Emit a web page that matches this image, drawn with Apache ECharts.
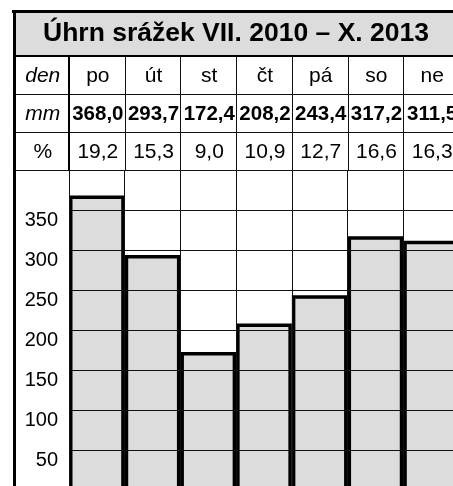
<!DOCTYPE html>
<html><head><meta charset="utf-8">
<script src="https://cdn.jsdelivr.net/npm/echarts@6/dist/echarts.min.js"></script>
<style>html,body{margin:0;padding:0;background:#fff}#c{width:453px;height:486px}</style>
</head><body><div id="c"></div>
<script>
const title = 'Úhrn srážek VII. 2010 – X. 2013';
const rowHeaders = ['den', 'mm', '%'];
const days = ['po', 'út', 'st', 'čt', 'pá', 'so', 'ne'];
const mm = [368.0, 293.7, 172.4, 208.2, 243.4, 317.2, 311.5];
const pct = [19.2, 15.3, 9.0, 10.9, 12.7, 16.6, 16.3];
const yTicks = [50, 100, 150, 200, 250, 300, 350];

const FF = '"Liberation Sans", Arial, sans-serif';
const chart = echarts.init(document.getElementById('c'), null, {renderer: 'canvas'});
const fmt = v => v.toFixed(1).replace('.', ',');

chart.setOption({
  animation: false,
  grid: {left: 69, top: 170, width: 390, height: 320, outerBoundsMode: 'none', containLabel: false},
  xAxis: {
    type: 'category', data: days, boundaryGap: true,
    axisLine: {show: false}, axisTick: {show: false}, axisLabel: {show: false},
    splitLine: {show: true, interval: 0, lineStyle: {color: '#111', width: 1}},
    zlevel: 1
  },
  yAxis: {
    type: 'value', min: 0, max: 400, interval: 50,
    axisLine: {show: false}, axisTick: {show: false},
    axisLabel: {
      formatter: v => yTicks.includes(v) ? String(v) : '',
      fontFamily: FF, fontSize: 20, color: '#000', margin: 11,
      verticalAlign: 'top', lineHeight: 20
    },
    splitLine: {lineStyle: {color: '#111', width: 1}},
    zlevel: 1
  },
  series: [{
    type: 'bar', data: mm, barWidth: '100%', barCategoryGap: '0%',
    itemStyle: {color: '#dcdcdc', borderColor: '#000', borderWidth: 3.5}
  }]
});

// table built from the arrays, positioned with the category axis scale
const centers = days.map((d, i) => chart.convertToPixel({xAxisIndex: 0}, i));
const cw = centers[1] - centers[0];
const x0 = centers[0] - cw / 2;
const leftX = 14.5;
const rowY = [56, 94.5, 132.5, 170.5];
const g = [];
g.push({type: 'rect', shape: {x: 15, y: 12, width: 460, height: 44}, style: {fill: '#dcdcdc'}, z: 1});
g.push({type: 'line', shape: {x1: 12, y1: 11.5, x2: 453, y2: 11.5}, style: {stroke: '#000', lineWidth: 3}, z: 10});
g.push({type: 'line', shape: {x1: leftX, y1: 10, x2: leftX, y2: 486}, style: {stroke: '#000', lineWidth: 3}, z: 10});
g.push({type: 'line', shape: {x1: 13, y1: rowY[0], x2: 453, y2: rowY[0]}, style: {stroke: '#000', lineWidth: 2}, z: 10});
for (let r = 1; r < rowY.length; r++) {
  g.push({type: 'line', shape: {x1: 15, y1: rowY[r], x2: 453, y2: rowY[r]}, style: {stroke: '#111', lineWidth: 1}, z: 10});
}
g.push({type: 'line', shape: {x1: x0, y1: rowY[0], x2: x0, y2: 171}, style: {stroke: '#000', lineWidth: 2}, z: 10});
for (let i = 1; i <= days.length; i++) {
  const bx = Math.round(x0 + cw * i) + 0.5;
  g.push({type: 'line', shape: {x1: bx, y1: rowY[0], x2: bx, y2: 171}, style: {stroke: '#111', lineWidth: 1}, z: 10});
}
g.push({type: 'text', x: 236, y: 34, style: {text: title, font: 'bold 26.5px ' + FF, fill: '#000', textAlign: 'center', textVerticalAlign: 'middle'}, z: 11});
const rowCenters = [76, 114, 152];
const hdrX = (leftX + x0) / 2 + 1;
g.push({type: 'text', x: hdrX, y: rowCenters[0], style: {text: rowHeaders[0], font: 'italic 21px ' + FF, fill: '#000', textAlign: 'center', textVerticalAlign: 'middle'}, z: 11});
g.push({type: 'text', x: hdrX, y: rowCenters[1], style: {text: rowHeaders[1], font: 'italic 21px ' + FF, fill: '#000', textAlign: 'center', textVerticalAlign: 'middle'}, z: 11});
g.push({type: 'text', x: hdrX, y: rowCenters[2], style: {text: rowHeaders[2], font: '21px ' + FF, fill: '#000', textAlign: 'center', textVerticalAlign: 'middle'}, z: 11});
days.forEach((d, i) => {
  const cx = centers[i] + 1;
  g.push({type: 'text', x: cx, y: rowCenters[0], style: {text: d, font: '21px ' + FF, fill: '#000', textAlign: 'center', textVerticalAlign: 'middle'}, z: 11});
  g.push({type: 'text', x: cx, y: rowCenters[1], style: {text: fmt(mm[i]), font: 'bold 20.5px ' + FF, fill: '#000', textAlign: 'center', textVerticalAlign: 'middle'}, z: 11});
  g.push({type: 'text', x: cx, y: rowCenters[2], style: {text: fmt(pct[i]), font: '21px ' + FF, fill: '#000', textAlign: 'center', textVerticalAlign: 'middle'}, z: 11});
});
chart.setOption({graphic: {elements: g}});
</script>
</body></html>
